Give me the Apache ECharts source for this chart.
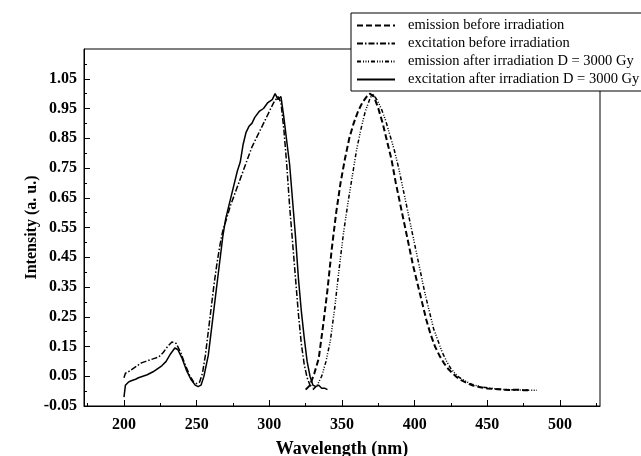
<!DOCTYPE html>
<html>
<head>
<meta charset="utf-8">
<script src="https://cdn.jsdelivr.net/npm/echarts@6/dist/echarts.min.js"></script>
<style>html,body{margin:0;padding:0;background:#fff;}#c{width:641px;height:456px;}</style>
</head>
<body>
<div id="c"></div>
<script>
// ---- data ----
const seriesNames = [
  'emission before irradiation',
  'excitation before irradiation',
  'emission after irradiation D = 3000 Gy',
  'excitation after irradiation D = 3000 Gy'
];
const xTickValues = [200, 250, 300, 350, 400, 450, 500];
const xMinorValues = [175, 225, 275, 325, 375, 425, 475, 525];
const yTickValues = [-0.05, 0.05, 0.15, 0.25, 0.35, 0.45, 0.55, 0.65, 0.75, 0.85, 0.95, 1.05];
const yMinorValues = [0, 0.1, 0.2, 0.3, 0.4, 0.5, 0.6, 0.7, 0.8, 0.9, 1.0, 1.1];

const emBeforeX = [325,328,331,334,337,340,343,346,349,352,355,358,361,364,367,369,372,375,378,381,384,387,390,393,396,399,402,405,408,411,414,417,420,423,426,429,432,436,440,445,450,455,460,465,470,475,480];
const emBeforeY = [0.005,0.02,0.06,0.11,0.22,0.34,0.48,0.60,0.70,0.78,0.85,0.90,0.94,0.97,0.99,1.00,0.99,0.95,0.90,0.84,0.78,0.70,0.63,0.56,0.49,0.42,0.36,0.30,0.24,0.19,0.15,0.12,0.095,0.075,0.06,0.047,0.037,0.027,0.019,0.013,0.009,0.007,0.005,0.004,0.005,0.003,0.003];

const exBeforeX = [200,201,203,206,209,212,215,218,221,224,227,230,233,236,239,242,245,248,250,252,254,256,258,260,262,264,266,268,270,273,276,279,282,285,288,291,294,297,300,303,306,308,310,312,314,316,318,320,322,324,326,328,330];
const exBeforeY = [0.045,0.06,0.065,0.075,0.085,0.095,0.10,0.105,0.11,0.115,0.13,0.15,0.165,0.16,0.13,0.09,0.055,0.03,0.025,0.03,0.06,0.12,0.20,0.28,0.36,0.43,0.49,0.54,0.57,0.62,0.66,0.70,0.74,0.78,0.82,0.85,0.88,0.91,0.94,0.97,0.99,0.97,0.88,0.76,0.62,0.50,0.38,0.26,0.16,0.09,0.045,0.02,0.012];

const emAfterX = [330,333,336,339,342,345,348,351,354,357,360,363,366,369,371,374,377,380,383,386,389,392,395,398,401,404,407,410,413,416,419,422,425,428,431,435,440,445,450,455,460,465,470,475,480,484];
const emAfterY = [0.005,0.02,0.05,0.10,0.17,0.28,0.41,0.53,0.63,0.72,0.81,0.88,0.94,0.98,1.00,0.98,0.95,0.91,0.86,0.81,0.75,0.68,0.61,0.54,0.47,0.40,0.33,0.27,0.21,0.17,0.13,0.10,0.075,0.058,0.045,0.033,0.022,0.015,0.011,0.008,0.006,0.005,0.004,0.004,0.003,0.003];

const exAfterX = [200,201,203,205,208,210,213,216,220,223,226,229,232,235,237,240,243,246,249,251,253,255,258,260,262,264,266,268,270,272,275,278,280,282,284,286,288,290,293,296,299,302,304,306,308,310,312,314,316,318,320,322,324,326,328,330,332,334,336,338,340];
const exAfterY = [-0.02,0.02,0.03,0.035,0.04,0.045,0.05,0.055,0.065,0.075,0.085,0.10,0.125,0.145,0.14,0.11,0.07,0.04,0.02,0.015,0.02,0.05,0.12,0.20,0.28,0.36,0.44,0.52,0.58,0.62,0.68,0.74,0.77,0.83,0.87,0.89,0.90,0.92,0.94,0.95,0.97,0.98,1.00,0.98,0.99,0.92,0.84,0.76,0.64,0.52,0.38,0.27,0.18,0.10,0.05,0.02,0.015,0.02,0.01,0.01,0.005];

function pairs(xs, ys) { return xs.map((x, i) => [x, ys[i]]); }

const serif = '"Liberation Serif", "Times New Roman", serif';
const chart = echarts.init(document.getElementById('c'), null, {renderer: 'canvas'});

const lineTypes = [
  {type: [6, 3], width: 2},
  {type: [6, 2, 1.5, 2], width: 1.5},
  {type: [4, 2, 1, 1.5, 1, 1.5, 1, 2], width: 1.5},
  {type: 'solid', width: 1.5}
];
const dataSets = [
  pairs(emBeforeX, emBeforeY),
  pairs(exBeforeX, exBeforeY),
  pairs(emAfterX, emAfterY),
  pairs(exAfterX, exAfterY)
];

chart.setOption({
  animation: false,
  backgroundColor: '#fff',
  grid: {left: 84, right: 41, top: 49, bottom: 50, containLabel: false, outerBoundsMode: 'none',
         show: true, borderColor: '#000', borderWidth: 1, backgroundColor: 'transparent'},
  legend: {
    orient: 'vertical',
    left: 351, top: 13,
    backgroundColor: '#fff',
    borderColor: '#000', borderWidth: 1, borderRadius: 0,
    padding: [5, 6, 4, 5],
    itemWidth: 38, itemHeight: 14, itemGap: 3,
    itemStyle: {opacity: 0},
    textStyle: {fontFamily: serif, fontSize: 14.5, color: '#000', padding: [0, 0, 0, 8]},
    data: seriesNames
  },
  xAxis: [{
    type: 'value', min: 172.5, max: 527.5,
    name: 'Wavelength (nm)', nameLocation: 'middle', nameGap: 34, nameMoveOverlap: false,
    nameTextStyle: {fontFamily: serif, fontSize: 18, fontWeight: 'bold', color: '#000'},
    axisLine: {show: true, onZero: false, lineStyle: {color: '#000', width: 1}},
    axisTick: {show: true, inside: true, length: 6, customValues: xTickValues, lineStyle: {color: '#000'}},
    axisLabel: {customValues: xTickValues, fontFamily: serif, fontSize: 16, fontWeight: 'bold', color: '#000', margin: 11},
    splitLine: {show: false}
  }, {
    type: 'value', min: 172.5, max: 527.5, position: 'bottom',
    axisLine: {show: false, onZero: false},
    axisTick: {show: true, inside: true, length: 3, customValues: xMinorValues, lineStyle: {color: '#000'}},
    axisLabel: {show: false},
    splitLine: {show: false}
  }],
  yAxis: [{
    type: 'value', min: -0.05, max: 1.15,
    name: 'Intensity (a. u.)', nameLocation: 'middle', nameGap: 44, nameRotate: 90, nameMoveOverlap: false,
    nameTextStyle: {fontFamily: serif, fontSize: 16, fontWeight: 'bold', color: '#000'},
    axisLine: {show: true, onZero: false, lineStyle: {color: '#000', width: 1}},
    axisTick: {show: true, inside: true, length: 6, customValues: yTickValues, lineStyle: {color: '#000'}},
    axisLabel: {customValues: yTickValues, formatter: v => v.toFixed(2), fontFamily: serif, fontSize: 16, fontWeight: 'bold', color: '#000', margin: 7},
    splitLine: {show: false}
  }, {
    type: 'value', min: -0.05, max: 1.15, position: 'left',
    axisLine: {show: false, onZero: false},
    axisTick: {show: true, inside: true, length: 3, customValues: yMinorValues, lineStyle: {color: '#000'}},
    axisLabel: {show: false},
    splitLine: {show: false}
  }],
  series: seriesNames.map((n, i) => ({
    name: n, type: 'line', data: dataSets[i], symbol: 'none', smooth: false,
    xAxisIndex: 0, yAxisIndex: 0,
    lineStyle: {color: '#000', width: lineTypes[i].width, type: lineTypes[i].type},
    itemStyle: {color: '#000'},
    z: 2
  }))
});
</script>
</body>
</html>
